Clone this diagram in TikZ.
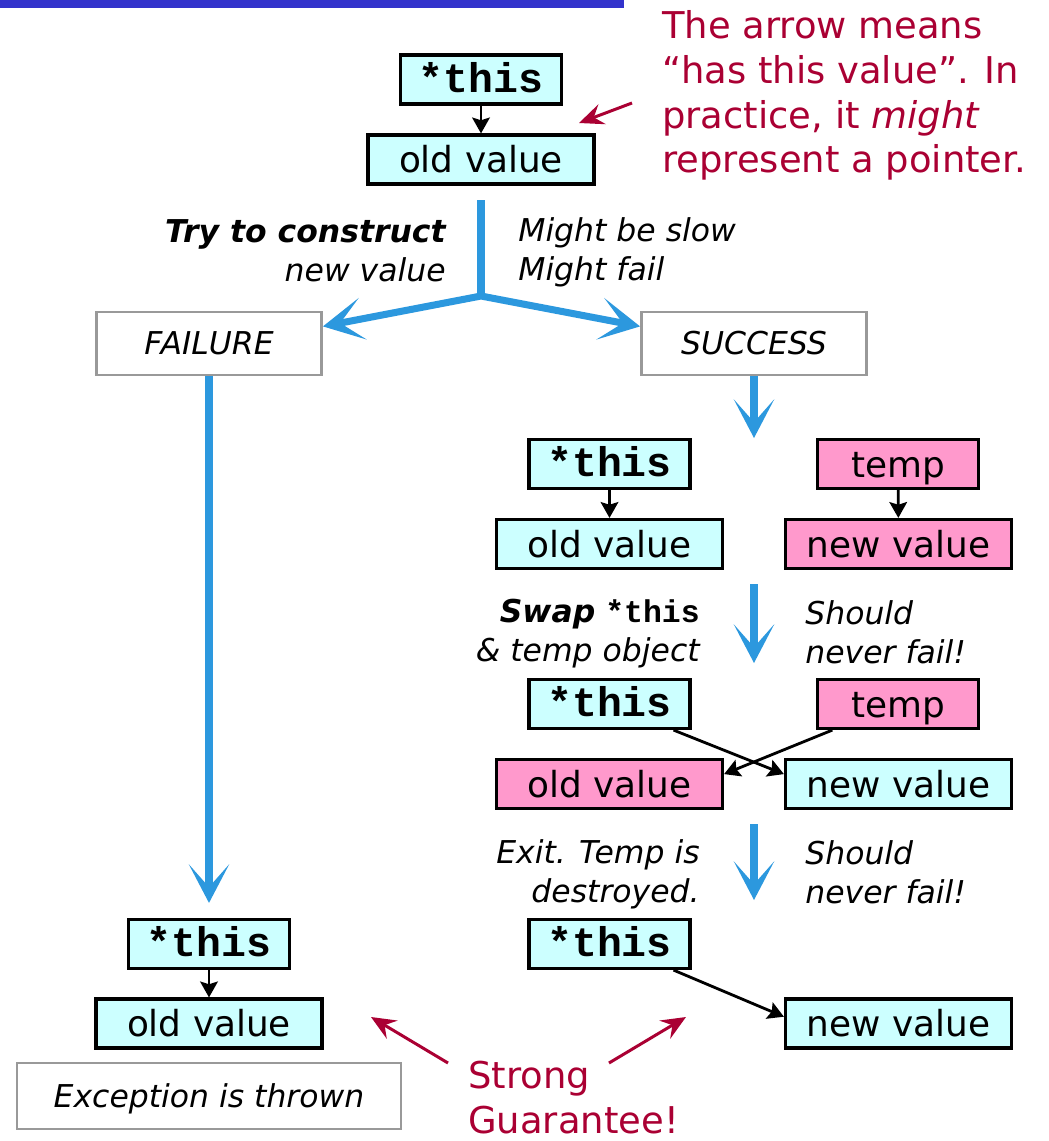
\documentclass[tikz,border=0pt]{standalone}
\usepackage{fontspec}
\setmainfont{DejaVu Sans}
\setmonofont{Liberation Mono}
\usepackage{xcolor}
\usetikzlibrary{arrows.meta,calc}
\definecolor{barblue}{RGB}{51,51,204}
\definecolor{flowblue}{RGB}{44,152,222}
\definecolor{cyanbox}{RGB}{204,255,255}
\definecolor{pinkbox}{RGB}{255,153,204}
\definecolor{framegray}{RGB}{153,153,153}
\definecolor{notered}{RGB}{170,0,51}
\newcommand\boxfont{\fontsize{20.4}{24}\selectfont}
\newcommand\codefont{\ttfamily\bfseries\fontsize{23.6}{28}\selectfont}
\newcommand\labelfont{\itshape\fontsize{17.9}{22.1}\selectfont}
\newcommand\notefont{\fontsize{21}{25.5}\selectfont}

\begin{document}
\begin{tikzpicture}[
    thisbox/.style={draw=black, fill=cyanbox, line width=1.8pt, minimum width=3.22cm, minimum height=0.98cm, inner sep=0pt, font=\codefont, text height=15.6pt, text depth=0.9pt},
    valbox/.style={draw=black, fill=cyanbox, line width=1.8pt, minimum width=4.52cm, minimum height=0.98cm, inner sep=0pt, font=\boxfont, text height=15.5pt, text depth=0.6pt},
    tempbox/.style={valbox, minimum width=3.22cm, fill=pinkbox},
    statebox/.style={draw=framegray, fill=white, line width=1.6pt, minimum width=4.5cm, minimum height=1.26cm, inner sep=0pt, font=\labelfont, text height=13.4pt, text depth=0.4pt},
    ptr/.style={draw=black, line width=1.6pt, -{Stealth[length=9pt, width=10pt, inset=1.5pt]}},
    flow/.style={draw=flowblue, line width=4pt},
    flowarrow/.style={flow, -{Stealth[length=22pt, width=23pt, inset=13pt]}},
    notearrow/.style={draw=notered, line width=1.7pt, -{Stealth[length=14pt, width=12pt, inset=5pt]}},
    label/.style={inner sep=0pt, font=\labelfont},
    note/.style={inner sep=0pt, text=notered, font=\notefont, align=left}
]

% Page frame
\useasboundingbox (0,0) rectangle (20.98,-22.82);
\fill[barblue] (0,0) rectangle (12.48,-0.15);

% 1. START: object holds its old value
\node[thisbox] (this1) at (9.62,-1.59) {*this};
\node[valbox] (old1) at (9.62,-3.19) {old value};
\draw[ptr] (this1) -- (old1);

% Note on the arrow meaning
\node[note, anchor=north west] (arrownote) at (13.24,-0.2) {The arrow means\\“has this value”. In\\practice, it \textit{might}\\represent a pointer.};
\coordinate (arrownotefrom) at (12.64,-2.06);
\coordinate (arrownoteto) at (11.58,-2.46);
\draw[notearrow] (arrownotefrom) -- (arrownoteto);

% 2. CONSTRUCT THE NEW VALUE
\coordinate (trunk) at (9.62,-4.0);
\coordinate (jn) at (9.62,-5.92);
\node[statebox] (failure) at (4.18,-6.87) {FAILURE};
\node[statebox] (success) at (15.08,-6.87) {SUCCESS};
\draw[flow] (trunk) -- (jn);
\draw[flow, line join=round, {Stealth[length=23pt, width=24pt, inset=13pt]}-{Stealth[length=23pt, width=24pt, inset=13pt]}]
    ($(failure.north east)!0.24!(failure.south east)$) -- (jn) -- ($(success.north west)!0.24!(success.south west)$);

\node[label, anchor=north east, align=right] (trylabel) at (8.92,-4.38) {\textbf{Try to construct}\\new value};
\node[label, anchor=north west, align=left] (slowlabel) at (10.36,-4.34) {Might be slow\\Might fail};

% 3. SUCCESS branch
\coordinate (step1) at (15.08,-8.76);
\draw[flowarrow] (success) -- (step1);

\node[thisbox] (this2) at (12.19,-9.28) {*this};
\node[valbox] (old2) at (12.19,-10.88) {old value};
\node[tempbox] (temp2) at (17.96,-9.28) {temp};
\node[valbox, fill=pinkbox] (new2) at (17.97,-10.88) {new value};
\draw[ptr] (this2) -- (old2);
\draw[ptr] (temp2) -- (new2);

% Swap
\coordinate (swaptop) at (15.08,-11.68);
\coordinate (swapend) at (15.08,-13.26);
\draw[flowarrow] (swaptop) -- (swapend);
\node[label, anchor=north east, align=right] (swaplabel) at (14.0,-11.97) {\textbf{Swap} {\upshape\ttfamily\bfseries *this}\\\& temp object};
\node[label, anchor=north west, align=left] (neverfail1) at (16.1,-12.0) {Should\\never fail!};

\node[thisbox] (this3) at (12.19,-14.08) {*this};
\node[tempbox] (temp3) at (17.96,-14.08) {temp};
\node[valbox, fill=pinkbox] (old3) at (12.19,-15.68) {old value};
\node[valbox] (new3) at (17.97,-15.68) {new value};
\draw[ptr] ($(this3.south west)!0.89!(this3.south east)$) -- ($(new3.north west)!0.31!(new3.south west)$);
\draw[ptr] ($(temp3.south west)!0.1!(temp3.south east)$) -- ($(old3.north east)!0.31!(old3.south east)$);

% Exit
\coordinate (exittop) at (15.08,-16.48);
\coordinate (exitend) at (15.08,-18.0);
\draw[flowarrow] (exittop) -- (exitend);
\node[label, anchor=north east, align=right] (exitlabel) at (14.0,-16.78) {Exit. Temp is\\destroyed.};
\node[label, anchor=north west, align=left] (neverfail2) at (16.1,-16.8) {Should\\never fail!};

\node[thisbox] (this4) at (12.19,-18.88) {*this};
\node[valbox] (new4) at (17.97,-20.47) {new value};
\draw[ptr] ($(this4.south west)!0.89!(this4.south east)$) -- ($(new4.north west)!0.37!(new4.south west)$);

% 4. FAILURE branch
\node[thisbox] (this5) at (4.18,-18.88) {*this};
\node[valbox] (old5) at (4.18,-20.47) {old value};
\draw[ptr] (this5) -- (old5);
\draw[flowarrow, shorten >=0.3cm] (failure) -- (this5);
\node[statebox, minimum width=7.68cm, minimum height=1.32cm] (thrown) at (4.18,-21.92) {Exception is thrown};

% 5. Strong guarantee
\node[note, anchor=north west] (strong) at (9.36,-21.22) {Strong\\Guarantee!};
\coordinate (leftfrom) at (8.96,-21.26);
\coordinate (leftto) at (7.42,-20.34);
\coordinate (rightfrom) at (12.18,-21.26);
\coordinate (rightto) at (13.72,-20.34);
\draw[notearrow] (leftfrom) -- (leftto);
\draw[notearrow] (rightfrom) -- (rightto);

\end{tikzpicture}
\end{document}
